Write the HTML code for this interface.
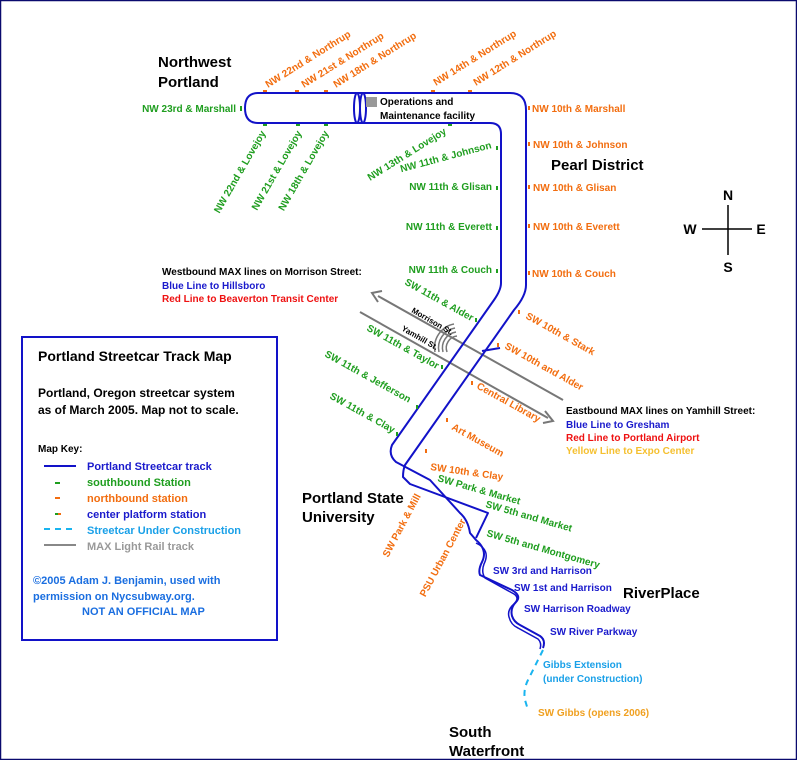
<!DOCTYPE html>
<html><head><meta charset="utf-8"><style>
html,body{margin:0;padding:0;background:#fff}
svg{display:block}
text{font-family:"Liberation Sans",Arial,sans-serif;font-weight:bold}
.s{font-size:10px}
.g{fill:#1f9e1f}.o{fill:#f26d0f}.b{fill:#1a1acc}
.t{font-size:15px;fill:#000}
</style></head><body>
<svg width="797" height="760" viewBox="0 0 797 760" xmlns="http://www.w3.org/2000/svg">
<rect x="0.5" y="0.5" width="796" height="759" fill="#fff" stroke="#0a0a6e" stroke-width="1.5"/>

<!-- MAX lines -->
<g stroke="#777" stroke-width="2" fill="none">
<line x1="378" y1="296" x2="563" y2="400"/>
<line x1="360" y1="312" x2="548" y2="418"/>
<polyline points="382,291 372,293 378,302"/>
<polyline points="545,411 553,421 543,423"/>
<path d="M447,352 a12,12 0 0 1 10,-16 M443,352 a16,16 0 0 1 13,-20 M439,352 a20,20 0 0 1 16,-24 M435,352 a24,24 0 0 1 19,-28" stroke-width="1.5"/>
</g>
<text x="411" y="312" font-size="8" transform="rotate(30 411 312)">Morrison St.</text>
<text x="401" y="330" font-size="8" transform="rotate(30 401 330)">Yamhill St.</text>

<!-- streetcar track -->
<g stroke="#1212c8" stroke-width="2" fill="none" stroke-linejoin="round">
<path d="M501,283 L501,134 Q501,123 490,123 L258,123 Q245,123 245,108 Q245,93 258,93 L510,93 Q526,93 526,110 L526,285 Q526,296 514,310 L405,465 Q403,470 403,477 L410,484 L488,513 L476,538"/>
<path d="M501,283 Q501,290 494,300 L392,445 Q388,455 396,462 L430,480 L460,513 Q468,520 470,533 L476,540 Q488,550 482,562 Q478,570 480,575 L512,590 Q522,596 516,602 Q510,608 512,616 Q514,622 520,625 L540,636 Q546,640 543,648"/>
<path d="M476,543 Q491,550 484,564 Q481,572 485,578 L514,594 Q520,598 514,604 Q507,610 509,617 Q511,625 518,628 L538,639 Q542,643 540,649" stroke-width="1.5"/>
<path d="M477,484 L526,358" stroke-width="0"/>
<line x1="482" y1="351" x2="500" y2="348" />
<ellipse cx="357" cy="108" rx="3" ry="15"/><ellipse cx="363" cy="108" rx="3" ry="15"/>
</g>
<path d="M543,650 L528,680 Q523,690 525,700 L528,710" stroke="#19b4ef" stroke-width="2" fill="none" stroke-dasharray="6,5"/>

<!-- ops facility -->
<rect x="366" y="97" width="11" height="10" fill="#999"/>
<text x="380" y="105" class="s">Operations and</text>
<text x="380" y="119" class="s">Maintenance facility</text>

<!-- station ticks -->
<g fill="#1f9e1f">
<rect x="240" y="106" width="2" height="5"/><rect x="263" y="124" width="4" height="2"/><rect x="296" y="124" width="4" height="2"/><rect x="324" y="124" width="4" height="2"/><rect x="448" y="124" width="4" height="2"/>
<rect x="496" y="146" width="2" height="4"/><rect x="496" y="186" width="2" height="4"/><rect x="496" y="226" width="2" height="4"/><rect x="496" y="269" width="2" height="4"/>
<rect x="475" y="318" width="2" height="4"/><rect x="441" y="365" width="2" height="4"/><rect x="416" y="405" width="2" height="4"/><rect x="396" y="432" width="2" height="4"/>
</g>
<g fill="#f26d0f">
<rect x="263" y="90" width="4" height="2"/><rect x="295" y="90" width="4" height="2"/><rect x="324" y="90" width="4" height="2"/><rect x="431" y="90" width="4" height="2"/><rect x="468" y="90" width="4" height="2"/>
<rect x="528" y="106" width="2" height="4"/><rect x="528" y="142" width="2" height="4"/><rect x="528" y="185" width="2" height="4"/><rect x="528" y="224" width="2" height="4"/><rect x="528" y="271" width="2" height="4"/>
<rect x="518" y="310" width="2" height="4"/><rect x="497" y="343" width="2" height="4"/><rect x="471" y="381" width="2" height="4"/><rect x="446" y="418" width="2" height="4"/><rect x="425" y="449" width="2" height="4"/>
</g>

<!-- regions -->
<text x="158" y="67" class="t">Northwest</text><text x="158" y="87" class="t">Portland</text>
<text x="551" y="170" class="t">Pearl District</text>
<text x="302" y="503" class="t">Portland State</text><text x="302" y="522" class="t">University</text>
<text x="623" y="598" class="t">RiverPlace</text>
<text x="449" y="737" class="t">South</text><text x="449" y="756" class="t">Waterfront</text>

<!-- NW labels -->
<g class="s">
<text class="o" x="268" y="88" transform="rotate(-32 268 88)">NW 22nd &amp; Northrup</text>
<text class="o" x="304" y="88" transform="rotate(-32 304 88)">NW 21st &amp; Northrup</text>
<text class="o" x="336" y="88" transform="rotate(-32 336 88)">NW 18th &amp; Northrup</text>
<text class="o" x="436" y="86" transform="rotate(-32 436 86)">NW 14th &amp; Northrup</text>
<text class="o" x="476" y="86" transform="rotate(-32 476 86)">NW 12th &amp; Northrup</text>
<text class="g" x="236" y="112" text-anchor="end">NW 23rd &amp; Marshall</text>
<text class="g" x="266" y="133" text-anchor="end" transform="rotate(-60 266 133)">NW 22nd &amp; Lovejoy</text>
<text class="g" x="302" y="133" text-anchor="end" transform="rotate(-60 302 133)">NW 21st &amp; Lovejoy</text>
<text class="g" x="329" y="133" text-anchor="end" transform="rotate(-60 329 133)">NW 18th &amp; Lovejoy</text>
<text class="g" x="447" y="133" text-anchor="end" transform="rotate(-32 447 133)">NW 13th &amp; Lovejoy</text>
<text class="g" x="492" y="148" text-anchor="end" transform="rotate(-15 492 148)">NW 11th &amp; Johnson</text>
<text class="g" x="492" y="190" text-anchor="end">NW 11th &amp; Glisan</text>
<text class="g" x="492" y="230" text-anchor="end">NW 11th &amp; Everett</text>
<text class="g" x="492" y="273" text-anchor="end">NW 11th &amp; Couch</text>
<text class="o" x="532" y="112">NW 10th &amp; Marshall</text>
<text class="o" x="533" y="148">NW 10th &amp; Johnson</text>
<text class="o" x="533" y="191">NW 10th &amp; Glisan</text>
<text class="o" x="533" y="230">NW 10th &amp; Everett</text>
<text class="o" x="532" y="277">NW 10th &amp; Couch</text>
<!-- SW -->
<text class="g" x="404" y="284" transform="rotate(29 404 284)">SW 11th &amp; Alder</text>
<text class="g" x="366" y="330" transform="rotate(29 366 330)">SW 11th &amp; Taylor</text>
<text class="g" x="324" y="356" transform="rotate(29 324 356)">SW 11th &amp; Jefferson</text>
<text class="g" x="329" y="398" transform="rotate(29 329 398)">SW 11th &amp; Clay</text>
<text class="o" x="525" y="318" transform="rotate(29 525 318)">SW 10th &amp; Stark</text>
<text class="o" x="504" y="348" transform="rotate(29 504 348)">SW 10th and Alder</text>
<text class="o" x="476" y="388" transform="rotate(29 476 388)">Central Library</text>
<text class="o" x="451" y="429" transform="rotate(29 451 429)">Art Museum</text>
<text class="o" x="430" y="470" transform="rotate(8 430 470)">SW 10th &amp; Clay</text>
<text class="g" x="437" y="481" transform="rotate(16 437 481)">SW Park &amp; Market</text>
<text class="g" x="485" y="507" transform="rotate(16 485 507)">SW 5th and Market</text>
<text class="g" x="486" y="536" transform="rotate(16 486 536)">SW 5th and Montgomery</text>
<text class="o" x="421" y="496" text-anchor="end" transform="rotate(-62 421 496)">SW Park &amp; Mill</text>
<text class="o" x="466" y="521" text-anchor="end" transform="rotate(-62 466 521)">PSU Urban Center</text>
<text class="b" x="493" y="574">SW 3rd and Harrison</text>
<text class="b" x="514" y="591">SW 1st and Harrison</text>
<text class="b" x="524" y="612">SW Harrison Roadway</text>
<text class="b" x="550" y="635">SW River Parkway</text>
<text x="543" y="668" fill="#19a0e8">Gibbs Extension</text>
<text x="543" y="682" fill="#19a0e8">(under Construction)</text>
<text x="538" y="716" fill="#f0a020">SW Gibbs (opens 2006)</text>
<!-- MAX text -->
<text x="162" y="275">Westbound MAX lines on Morrison Street:</text>
<text x="162" y="289" fill="#1a1acc">Blue Line to Hillsboro</text>
<text x="162" y="302" fill="#ee1111">Red Line to Beaverton Transit Center</text>
<text x="566" y="414">Eastbound MAX lines on Yamhill Street:</text>
<text x="566" y="428" fill="#1a1acc">Blue Line to Gresham</text>
<text x="566" y="441" fill="#ee1111">Red Line to Portland Airport</text>
<text x="566" y="454" fill="#f5c030">Yellow Line to Expo Center</text>
</g>

<!-- compass -->
<g stroke="#000" stroke-width="1.5"><line x1="702" y1="229" x2="752" y2="229"/><line x1="728" y1="205" x2="728" y2="255"/></g>
<g font-size="14" text-anchor="middle"><text x="728" y="200">N</text><text x="728" y="272">S</text><text x="690" y="234">W</text><text x="761" y="234">E</text></g>

<!-- legend -->
<rect x="22" y="337" width="255" height="303" fill="#fff" stroke="#1212c8" stroke-width="2"/>
<text x="38" y="361" font-size="14">Portland Streetcar Track Map</text>
<text x="38" y="397" font-size="12">Portland, Oregon streetcar system</text>
<text x="38" y="414" font-size="12">as of March 2005. Map not to scale.</text>
<text x="38" y="452" font-size="10">Map Key:</text>
<line x1="44" y1="466" x2="76" y2="466" stroke="#1212c8" stroke-width="2"/>
<rect x="55" y="482" width="5" height="2" fill="#1f9e1f"/>
<rect x="55" y="497" width="5" height="2" fill="#f26d0f"/>
<rect x="55" y="513" width="3" height="2" fill="#1f9e1f"/><rect x="58" y="513" width="3" height="2" fill="#f26d0f"/>
<line x1="44" y1="529" x2="76" y2="529" stroke="#19b4ef" stroke-width="2" stroke-dasharray="6,5"/>
<line x1="44" y1="545" x2="76" y2="545" stroke="#888" stroke-width="2"/>
<g font-size="11">
<text x="87" y="470" fill="#1a1acc">Portland Streetcar track</text>
<text x="87" y="486" fill="#1f9e1f">southbound Station</text>
<text x="87" y="502" fill="#1a1acc"><tspan fill="#f26d0f">northbound station</tspan></text>
<text x="87" y="518" fill="#1a1acc">center platform station</text>
<text x="87" y="534" fill="#19a0e8">Streetcar Under Construction</text>
<text x="87" y="550" fill="#999">MAX Light Rail track</text>
<text x="33" y="584" fill="#1a6ee0">©2005 Adam J. Benjamin, used with</text>
<text x="33" y="600" fill="#1a6ee0">permission on Nycsubway.org.</text>
<text x="82" y="615" fill="#1a6ee0">NOT AN OFFICIAL MAP</text>
</g>
</svg>
</body></html>
